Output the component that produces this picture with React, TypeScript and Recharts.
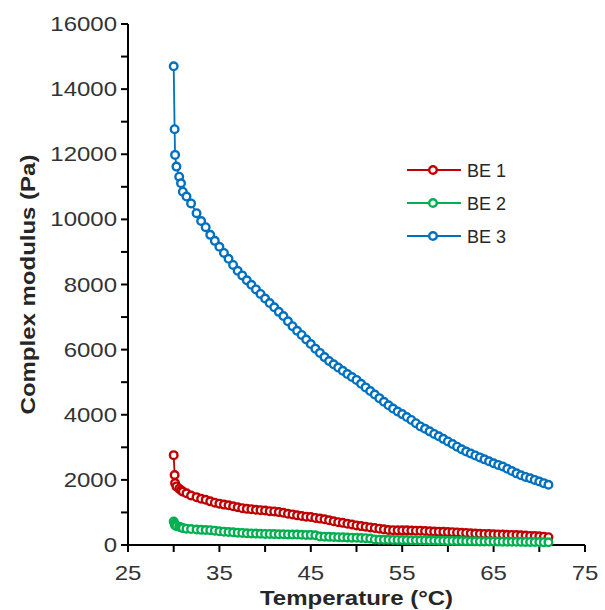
import React from 'react';
import { LineChart, Line, XAxis, YAxis, Legend } from 'recharts';

// temperature (°C) of each measurement
const temperature = [
  30.0, 30.1, 30.15, 30.3, 30.6, 30.8, 31.0, 31.4, 31.9, 32.5, 33.0, 33.5, 34.0,
  34.5, 35, 35.5, 36, 36.5, 37, 37.5, 38, 38.5, 39,
  39.5, 40, 40.5, 41, 41.5, 42, 42.5, 43, 43.5, 44,
  44.5, 45, 45.5, 46, 46.5, 47, 47.5, 48, 48.5, 49,
  49.5, 50, 50.5, 51, 51.5, 52, 52.5, 53, 53.5, 54,
  54.5, 55, 55.5, 56, 56.5, 57, 57.5, 58, 58.5, 59,
  59.5, 60, 60.5, 61, 61.5, 62, 62.5, 63, 63.5, 64,
  64.5, 65, 65.5, 66, 66.5, 67, 67.5, 68, 68.5, 69,
  69.5, 70, 70.5, 71,
];

// complex modulus (Pa)
const be1 = [
  2760, 2150, 1900, 1800, 1730, 1680, 1640, 1590, 1520, 1470, 1420, 1390, 1340,
  1300, 1270, 1240, 1220, 1190, 1160, 1130, 1110, 1100, 1080,
  1070, 1060, 1040, 1030, 1010, 990, 960, 940, 910, 890,
  870, 860, 830, 810, 790, 760, 730, 700, 680, 650,
  630, 600, 580, 560, 540, 520, 500, 480, 460, 455,
  450, 450, 450, 445, 440, 440, 430, 420, 415, 410,
  405, 400, 395, 385, 375, 370, 360, 350, 345, 340,
  335, 330, 325, 320, 315, 310, 305, 300, 290, 280,
  275, 265, 255, 240,
];

const be2 = [
  720, 650, 610, 580, 560, 540, 520, 500, 490, 475, 465, 460, 455,
  440, 420, 410, 400, 390, 380, 370, 360, 355, 350,
  345, 340, 340, 335, 330, 330, 325, 320, 320, 315,
  310, 310, 300, 260, 255, 250, 245, 240, 235, 230,
  225, 220, 215, 210, 200, 170, 165, 160, 160, 155,
  155, 150, 150, 145, 145, 140, 140, 135, 135, 130,
  130, 125, 125, 120, 120, 118, 115, 112, 110, 108,
  106, 105, 104, 102, 100, 100, 98, 96, 95, 94,
  92, 90, 88, 85,
];

const be3 = [
  14700, 12770, 11980, 11620, 11310, 11110, 10850, 10700, 10490, 10190, 9950, 9760, 9525,
  9340, 9160, 8970, 8790, 8600, 8420, 8280, 8130, 7990, 7850,
  7710, 7570, 7430, 7300, 7160, 7030, 6870, 6720, 6580, 6450,
  6310, 6170, 6030, 5900, 5770, 5650, 5550, 5450, 5350, 5250,
  5160, 5070, 4950, 4840, 4730, 4620, 4510, 4400, 4290, 4190,
  4100, 4020, 3930, 3840, 3740, 3640, 3570, 3490, 3410, 3340,
  3260, 3180, 3100, 3020, 2940, 2870, 2810, 2750, 2690, 2630,
  2570, 2510, 2460, 2410, 2340, 2270, 2200, 2140, 2090, 2050,
  2000, 1950, 1900, 1850,
];

const xTicks = [25, 30, 35, 40, 45, 50, 55, 60, 65, 70, 75];
const xLabels = [25, 35, 45, 55, 65, 75];
const yTicks = [0, 1000, 2000, 3000, 4000, 5000, 6000, 7000, 8000, 9000, 10000, 11000, 12000, 13000, 14000, 15000, 16000];
const yLabels = [0, 2000, 4000, 6000, 8000, 10000, 12000, 14000, 16000];

const series = [
  { key: 'be1', name: 'BE 1', color: '#C00000' },
  { key: 'be2', name: 'BE 2', color: '#00B050' },
  { key: 'be3', name: 'BE 3', color: '#0070C0' },
];

const data = temperature.map((t, i) => ({ t, be1: be1[i], be2: be2[i], be3: be3[i] }));

const FONT = 'Arial, "Liberation Sans", sans-serif';
// the source figure uses wide glyphs, so stretch text along its own baseline
const WIDE = 1.2;

function XTick({ x, y, payload }: any) {
  if (!xLabels.includes(payload.value)) return <g />;
  return (
    <g transform={`translate(${x},${y}) scale(${WIDE},1)`}>
      <text x={0} y={0} dy={26} textAnchor="middle" fontFamily={FONT} fontSize={20} fill="#333">
        {payload.value}
      </text>
    </g>
  );
}

function YTick({ x, y, payload }: any) {
  if (!yLabels.includes(payload.value)) return <g />;
  return (
    <g transform={`translate(${x - 2},${y}) scale(${WIDE},1)`}>
      <text x={0} y={0} dy={7} textAnchor="end" fontFamily={FONT} fontSize={20} fill="#333">
        {payload.value}
      </text>
    </g>
  );
}

function LegendBox() {
  return (
    <svg width={140} height={100}>
      {series.map((s, i) => (
        <g key={s.key} transform={`translate(0, ${15 + i * 33})`}>
          <line x1={2} x2={56} y1={0} y2={0} stroke={s.color} strokeWidth={1.8} />
          <circle cx={28} cy={0} r={3.8} fill="#fff" stroke={s.color} strokeWidth={2.4} />
          <text x={62} y={7} fontFamily={FONT} fontSize={18} fill="#262626">{s.name}</text>
        </g>
      ))}
    </svg>
  );
}

export default function App() {
  return (
    <div style={{ width: 605, height: 610, background: '#fff', position: 'relative' }}>
      <style>{'body{margin:0}'}</style>
      <LineChart width={605} height={610} data={data} margin={{ top: 24, right: 20, left: 10, bottom: 0 }}>
        <XAxis
          dataKey="t"
          type="number"
          domain={[25, 75]}
          ticks={xTicks}
          interval={0}
          tick={XTick}
          tickSize={7}
          tickLine={{ stroke: '#000', strokeWidth: 2 }}
          axisLine={{ stroke: '#000', strokeWidth: 2 }}
          height={65}
          label={{
            content: ({ viewBox }: any) => (
              <g transform={`translate(${viewBox.x + viewBox.width / 2},${viewBox.y + 60}) scale(${WIDE},1)`}>
                <text x={0} y={0} textAnchor="middle" fontFamily={FONT} fontWeight="bold" fontSize={20} fill="#262626">
                  Temperature (°C)
                </text>
              </g>
            ),
          }}
        />
        <YAxis
          type="number"
          domain={[0, 16000]}
          ticks={yTicks}
          interval={0}
          tick={YTick}
          tickSize={7}
          tickLine={{ stroke: '#000', strokeWidth: 2 }}
          axisLine={{ stroke: '#000', strokeWidth: 2 }}
          width={118}
          label={{
            content: ({ viewBox }: any) => {
              const cx = viewBox.x + 18;
              const cy = viewBox.y + viewBox.height / 2;
              return (
                <g transform={`translate(${cx},${cy}) rotate(-90) scale(${WIDE},1)`}>
                  <text
                    x={0}
                    y={0}
                    textAnchor="middle"
                    dominantBaseline="central"
                    fontFamily={FONT}
                    fontWeight="bold"
                    fontSize={20}
                    fill="#262626"
                  >
                    Complex modulus (Pa)
                  </text>
                </g>
              );
            },
          }}
        />
        <Legend
          layout="horizontal"
          verticalAlign="middle"
          align="center"
          wrapperStyle={{ position: 'absolute', left: 405, top: 155, width: 140, height: 100 }}
          content={() => <LegendBox />}
        />
        {series.map((s) => (
          <Line
            key={s.key}
            dataKey={s.key}
            name={s.name}
            type="linear"
            stroke={s.color}
            strokeWidth={1.8}
            dot={{ r: 3.8, fill: '#fff', stroke: s.color, strokeWidth: 2.4 }}
            activeDot={false}
            isAnimationActive={false}
          />
        ))}
      </LineChart>
    </div>
  );
}
